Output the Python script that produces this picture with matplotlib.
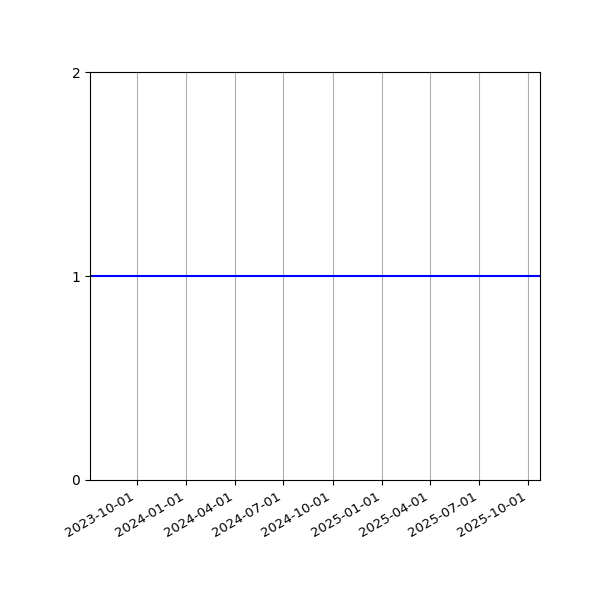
import matplotlib
matplotlib.use("Agg")
import matplotlib.pyplot as plt
import matplotlib.dates as mdates
import datetime as dt

# data: constant value over the date range
dates = [dt.date(2023, 7, 6), dt.date(2025, 10, 23)]
values = [1, 1]
yticks = [0, 1, 2]

fig, ax = plt.subplots(figsize=(6, 6), dpi=100)
ax.plot(dates, values, color='b', linewidth=1.5)

ax.set_xlim(dates[0], dates[-1])
ax.set_ylim(0, 2)
ax.set_yticks(yticks)
ax.xaxis.set_major_locator(mdates.MonthLocator(bymonth=[1, 4, 7, 10]))
ax.xaxis.set_major_formatter(mdates.DateFormatter('%Y-%m-%d'))
ax.xaxis.grid(True)
ax.tick_params(axis='x', labelsize=9.5)
fig.autofmt_xdate()
fig.subplots_adjust(left=0.15, right=0.9, top=0.88, bottom=0.2)

plt.savefig("out.png")
